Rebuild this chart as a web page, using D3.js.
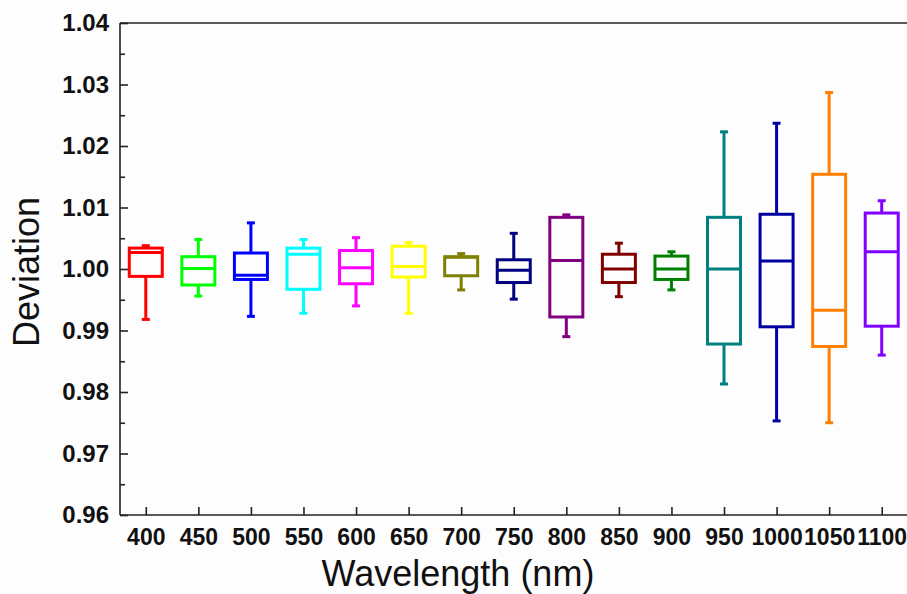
<!DOCTYPE html>
<html>
<head>
<meta charset="utf-8">
<script src="https://cdn.jsdelivr.net/npm/d3@7"></script>
<style>
  html, body { margin: 0; padding: 0; background: #fdfdfd; }
  svg { display: block; }
</style>
</head>
<body>
<svg id="chart" width="907" height="594"></svg>
<script>
// Wavelength categories (nm)
const wavelengths = [400, 450, 500, 550, 600, 650, 700, 750, 800, 850, 900, 950, 1000, 1050, 1100];

// Box statistics per wavelength
const whiskerLow  = [0.9918, 0.9956, 0.9923, 0.9928, 0.9940, 0.9928, 0.9966, 0.9951, 0.9890, 0.9955, 0.9966, 0.9813, 0.9753, 0.9750, 0.9860];
const q1          = [0.9988, 0.9974, 0.9983, 0.9967, 0.9976, 0.9987, 0.9989, 0.9978, 0.9922, 0.9978, 0.9983, 0.9878, 0.9906, 0.9874, 0.9907];
const median      = [1.0027, 1.0001, 0.9990, 1.0024, 1.0002, 1.0004, 1.0019, 0.9998, 1.0014, 1.0000, 1.0000, 1.0000, 1.0013, 0.9933, 1.0028];
const q3          = [1.0034, 1.0020, 1.0026, 1.0034, 1.0030, 1.0037, 1.0020, 1.0015, 1.0084, 1.0024, 1.0021, 1.0084, 1.0089, 1.0154, 1.0091];
const whiskerHigh = [1.0038, 1.0048, 1.0075, 1.0048, 1.0051, 1.0043, 1.0025, 1.0058, 1.0088, 1.0042, 1.0028, 1.0223, 1.0237, 1.0287, 1.0111];

const colors = ["#ff0000", "#00ff00", "#0000ff", "#00ffff", "#ff00ff", "#ffff00", "#808000", "#000080",
                "#800080", "#800000", "#008000", "#008080", "#0000a0", "#ff8000", "#8000ff"];

// Axis ticks
const yTicks = [0.96, 0.97, 0.98, 0.99, 1.00, 1.01, 1.02, 1.03, 1.04];
const yMinorTicks = [0.965, 0.975, 0.985, 0.995, 1.005, 1.015, 1.025, 1.035];

const svg = d3.select("#chart");
const plotLeft = 120, plotTop = 23, plotBottom = 515, plotRight = 908;

const x = d3.scaleLinear().domain([375, 1125]).range([119.5, 908]);
const y = d3.scaleLinear().domain([0.96, 1.04]).range([plotBottom, plotTop]);

const boxW = 33, capW = 8, strokeW = 3;
const fontTick = "'Liberation Sans', Arial, sans-serif";

// Boxes
const rows = wavelengths.map((w, i) => ({
  w, lo: whiskerLow[i], q1: q1[i], med: median[i], q3: q3[i], hi: whiskerHigh[i], c: colors[i]
}));

const g = svg.append("g");
const box = g.selectAll("g.box").data(rows).join("g").attr("class", "box")
  .attr("stroke", d => d.c).attr("fill", "none").attr("stroke-width", strokeW);

// whiskers
box.append("line")
  .attr("x1", d => x(d.w)).attr("x2", d => x(d.w))
  .attr("y1", d => y(d.q3)).attr("y2", d => y(d.hi));
box.append("line")
  .attr("x1", d => x(d.w)).attr("x2", d => x(d.w))
  .attr("y1", d => y(d.q1)).attr("y2", d => y(d.lo));
// caps
box.append("line")
  .attr("x1", d => x(d.w) - capW / 2).attr("x2", d => x(d.w) + capW / 2)
  .attr("y1", d => y(d.hi)).attr("y2", d => y(d.hi));
box.append("line")
  .attr("x1", d => x(d.w) - capW / 2).attr("x2", d => x(d.w) + capW / 2)
  .attr("y1", d => y(d.lo)).attr("y2", d => y(d.lo));
// box
box.append("rect")
  .attr("x", d => x(d.w) - boxW / 2).attr("width", boxW)
  .attr("y", d => y(d.q3)).attr("height", d => y(d.q1) - y(d.q3))
  .attr("fill", "none");
// median
box.append("line")
  .attr("x1", d => x(d.w) - boxW / 2).attr("x2", d => x(d.w) + boxW / 2)
  .attr("y1", d => y(d.med)).attr("y2", d => y(d.med));

// Frame: left, bottom and top lines
const axisColor = "#222";
svg.append("line").attr("x1", plotLeft).attr("x2", plotLeft).attr("y1", plotTop).attr("y2", plotBottom)
  .attr("stroke", axisColor).attr("stroke-width", 1.6);
svg.append("line").attr("x1", plotLeft).attr("x2", plotRight).attr("y1", plotBottom).attr("y2", plotBottom)
  .attr("stroke", axisColor).attr("stroke-width", 1.6);
svg.append("line").attr("x1", plotLeft).attr("x2", plotRight).attr("y1", plotTop).attr("y2", plotTop)
  .attr("stroke", axisColor).attr("stroke-width", 1.6);

// Y axis (ticks point inward)
const yAxis = d3.axisLeft(y).tickValues(yTicks).tickFormat(d3.format(".2f"))
  .tickSizeInner(-8).tickSizeOuter(0).tickPadding(11);
const ya = svg.append("g").attr("transform", `translate(${plotLeft},0)`).call(yAxis);
ya.select(".domain").remove();
ya.selectAll(".tick line").attr("stroke", axisColor).attr("stroke-width", 1.6);
ya.selectAll(".tick text").attr("font-family", fontTick).attr("font-size", 24)
  .attr("font-weight", "bold").attr("fill", "#111");

const yMinor = d3.axisLeft(y).tickValues(yMinorTicks).tickFormat("").tickSizeInner(-5).tickSizeOuter(0);
const ym = svg.append("g").attr("transform", `translate(${plotLeft},0)`).call(yMinor);
ym.select(".domain").remove();
ym.selectAll(".tick line").attr("stroke", axisColor).attr("stroke-width", 1.6);

// X axis
const xAxis = d3.axisBottom(x).tickValues(wavelengths).tickFormat(d3.format("d"))
  .tickSizeInner(-8).tickSizeOuter(0).tickPadding(14);
const xa = svg.append("g").attr("transform", `translate(0,${plotBottom})`).call(xAxis);
xa.select(".domain").remove();
xa.selectAll(".tick line").attr("stroke", axisColor).attr("stroke-width", 1.6);
xa.selectAll(".tick text").attr("font-family", fontTick).attr("font-size", 23)
  .attr("font-weight", "bold").attr("fill", "#111");

// Axis titles
svg.append("text")
  .attr("x", 458).attr("y", 586)
  .attr("text-anchor", "middle")
  .attr("font-family", fontTick).attr("font-size", 36).attr("fill", "#111")
  .text("Wavelength (nm)");

svg.append("text")
  .attr("transform", "translate(39,272) rotate(-90)")
  .attr("text-anchor", "middle")
  .attr("font-family", fontTick).attr("font-size", 36).attr("fill", "#111")
  .text("Deviation");
</script>
</body>
</html>
